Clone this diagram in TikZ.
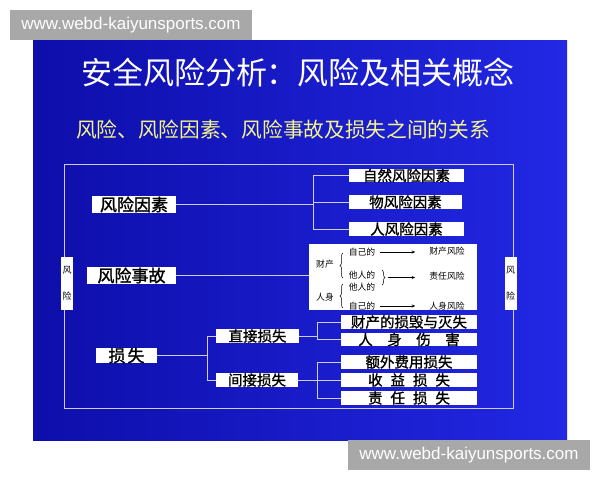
\documentclass[tikz,border=0pt]{standalone}
\usepackage{fontspec}
\setmainfont{Liberation Sans}
\newfontfamily\cjk{Noto Sans CJK SC}
\newfontfamily\cjkb[FakeBold=1.3]{Noto Sans CJK SC}
\usetikzlibrary{decorations.pathreplacing,arrows.meta}
\definecolor{bgL}{RGB}{14,14,170}
\definecolor{bgM}{RGB}{22,22,214}
\definecolor{bgR}{RGB}{34,40,228}
\definecolor{linec}{RGB}{205,205,235}
\definecolor{subyel}{RGB}{245,245,140}
\definecolor{wmgray}{RGB}{168,168,168}
\tikzset{
  wbox/.style={fill=white, inner sep=0pt, text=black, font=\cjkb\fontsize{14.5}{14.5}\selectfont},
  bigbox/.style={wbox, font=\cjkb\fontsize{17}{17}\selectfont},
  vbox/.style={fill=white, inner sep=0pt, text=black, align=center, minimum width=12, minimum height=53, font=\cjk\fontsize{9}{26}\selectfont},
  small/.style={inner sep=0pt, text=black, font=\cjk\fontsize{8.8}{8.8}\selectfont},
  conn/.style={draw=linec, line width=0.8pt},
  arr/.style={draw=black, line width=0.6pt, -{Stealth[length=3.5pt,width=3pt]}},
  brc/.style={draw=black, line width=0.5pt, decorate, decoration={brace, amplitude=3pt}},
  wmark/.style={fill=wmgray, text=white, inner sep=0pt, font=\fontsize{17}{17}\selectfont},
}
\begin{document}
\begin{tikzpicture}[x=1pt, y=-1pt]
\useasboundingbox (0,0) rectangle (600,480);
\fill[white] (0,0) rectangle (600,480);
% slide background
\shade[left color=bgL, middle color=bgM, right color=bgR] (33,40) rectangle (567,440);
% watermarks
\node[wmark, minimum width=242, minimum height=30] (wm1) at (131,25) {www.webd-kaiyunsports.com};
\node[wmark, minimum width=242, minimum height=30] (wm2) at (469,455) {www.webd-kaiyunsports.com};
% titles
\node[inner sep=0pt, text=white, font=\cjk\fontsize{31}{31}\selectfont] (title) at (298,72) {安全风险分析：风险及相关概念};
\node[inner sep=0pt, text=subyel, font=\cjk\fontsize{20.7}{20.7}\selectfont] (sub) at (283,130) {风险、风险因素、风险事故及损失之间的关系};
% outer frame
\draw[conn] (64,164) rectangle (513,408);
\node[vbox] (fl) at (67,283.5) {风\\险};
\node[vbox] (fr) at (510.5,283.5) {风\\险};
% level 1 boxes
\node[bigbox, minimum width=84, minimum height=17] (fx) at (134,204.5) {风险因素};
\node[bigbox, minimum width=89, minimum height=17] (sg) at (131.5,275.5) {风险事故};
\node[bigbox, minimum width=61, minimum height=15] (ss) at (126.5,355.5) {损\hspace{2pt}失};
% risk factors
\node[wbox, minimum width=115, minimum height=13] (zr) at (406.5,175.5) {自然风险因素};
\node[wbox, minimum width=113, minimum height=12] (wf) at (405.5,202) {物风险因素};
\node[wbox, minimum width=115, minimum height=12] (rf) at (406.5,229) {人风险因素};
\coordinate (b1) at (313,204.5);
\draw[conn] (fx.east) -- (b1);
\draw[conn] (b1 |- zr.west) -- (b1 |- rf.west);
\draw[conn] (b1 |- zr.west) -- (zr.west);
\draw[conn] (b1 |- wf.west) -- (wf.west);
\draw[conn] (b1 |- rf.west) -- (rf.west);
% accident white box
\node[fill=white, inner sep=0pt, minimum width=168, minimum height=66] (acc) at (393,277) {};
\draw[conn] (sg.east) -- (acc.west |- sg.east);
\node[small] (cc1) at (325,264) {财产};
\node[small] (rs1) at (325,297) {人身};
\node[small] (a1) at (362,252) {自己的};
\node[small] (a2) at (362,275) {他人的};
\node[small] (a3) at (362,287) {他人的};
\node[small] (a4) at (362,306) {自己的};
\node[small] (r1) at (447,251) {财产风险};
\node[small] (r2) at (447,276) {责任风险};
\node[small] (r3) at (447,306) {人身风险};
\draw[brc] (343,278) -- (343,253);
\draw[brc] (343,308) -- (343,284);
\draw[brc] (382,270) -- (382,285);
\coordinate (t2) at (388,277.5);
\draw[arr, shorten <=5pt, shorten >=14pt] (a1.east) -- (a1.east -| r1.west);
\draw[arr, shorten >=14pt] (t2) -- (t2 -| r2.west);
\draw[arr, shorten <=5pt, shorten >=14pt] (a4.east) -- (a4.east -| r3.west);
% losses
\node[wbox, minimum width=83, minimum height=12] (zj) at (257.5,336) {直接损失};
\node[wbox, minimum width=82, minimum height=12] (jj) at (257,380) {间接损失};
\coordinate (b2) at (207,355.5);
\draw[conn] (ss.east) -- (b2);
\draw[conn] (b2 |- zj.west) -- (b2 |- jj.west);
\draw[conn] (b2 |- zj.west) -- (zj.west);
\draw[conn] (b2 |- jj.west) -- (jj.west);
\node[wbox, minimum width=136, minimum height=12] (cs) at (409,322) {财产的损毁与灭失};
\node[wbox, minimum width=136, minimum height=13] (rsh) at (409,339.5) {人\hspace{1em}身\hspace{1em}伤\hspace{1em}害};
\node[wbox, minimum width=136, minimum height=12] (ew) at (409,362) {额外费用损失};
\node[wbox, minimum width=136, minimum height=12] (sy) at (409,380) {收\hspace{0.55em}益\hspace{0.55em}损\hspace{0.55em}失};
\node[wbox, minimum width=136, minimum height=12] (zrs) at (409,398) {责\hspace{0.55em}任\hspace{0.55em}损\hspace{0.55em}失};
\coordinate (b3) at (317,336);
\draw[conn] (zj.east) -- (b3);
\draw[conn] (b3 |- cs.west) -- (b3 |- rsh.west);
\draw[conn] (b3 |- cs.west) -- (cs.west);
\draw[conn] (b3 |- rsh.west) -- (rsh.west);
\coordinate (b4) at (317,380);
\draw[conn] (jj.east) -- (b4);
\draw[conn] (b4 |- ew.west) -- (b4 |- zrs.west);
\draw[conn] (b4 |- ew.west) -- (ew.west);
\draw[conn] (b4 |- sy.west) -- (sy.west);
\draw[conn] (b4 |- zrs.west) -- (zrs.west);
\end{tikzpicture}
\end{document}
